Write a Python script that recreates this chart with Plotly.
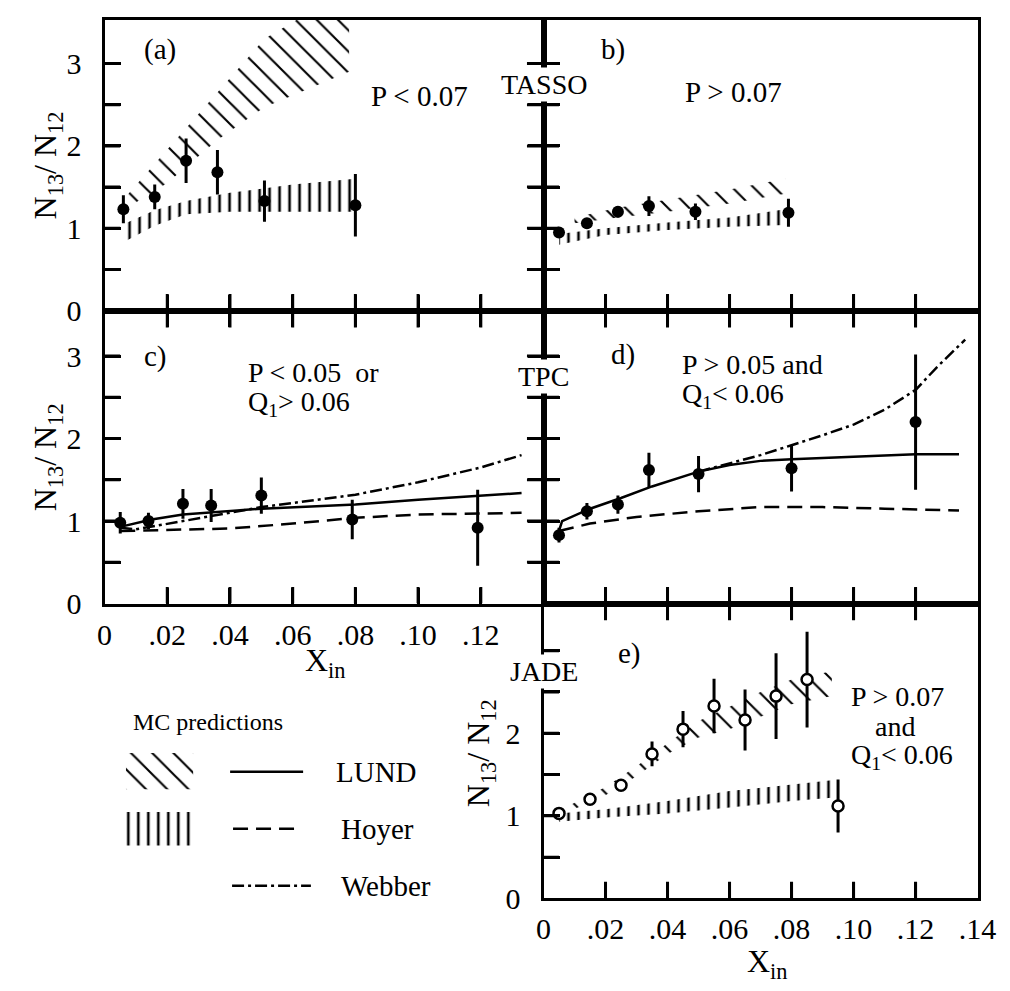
import plotly.graph_objects as go

W, H = 1010, 991
FONT = "Liberation Serif, Times New Roman, Times, DejaVu Serif, serif"

def PX(x):
    return x / W

def PY(y):
    return 1 - y / H

# ---------------- data ----------------
# (a) TASSO, P < 0.07
xa = [0.006, 0.016, 0.026, 0.036, 0.051, 0.080]
ya = [1.23, 1.38, 1.82, 1.68, 1.33, 1.28]
ea = [0.17, 0.15, 0.27, 0.27, 0.25, 0.38]
lund_a_x = [0.006, 0.02, 0.036, 0.051, 0.078]
lund_a_lo = [1.22, 1.55, 2.07, 2.47, 2.90]
lund_a_hi = [1.35, 1.95, 2.65, 3.30, 3.90]
hoyer_a_x = [0.006, 0.016, 0.026, 0.04, 0.06, 0.08]
hoyer_a_lo = [0.83, 1.03, 1.17, 1.20, 1.20, 1.20]
hoyer_a_hi = [1.05, 1.22, 1.33, 1.43, 1.53, 1.60]

# (b) TASSO, P > 0.07
xb = [0.005, 0.014, 0.024, 0.034, 0.049, 0.079]
yb = [0.95, 1.06, 1.20, 1.27, 1.20, 1.19]
eb = [0.05, 0.06, 0.07, 0.12, 0.10, 0.17]
lund_b_x = [0.010, 0.024, 0.04, 0.06, 0.078]
lund_b_lo = [1.06, 1.13, 1.20, 1.30, 1.42]
lund_b_hi = [1.13, 1.25, 1.35, 1.47, 1.60]
hoyer_b_x = [0.005, 0.02, 0.04, 0.06, 0.078]
hoyer_b_lo = [0.80, 0.92, 0.98, 1.02, 1.04]
hoyer_b_hi = [0.93, 1.00, 1.07, 1.13, 1.23]

# (c) TPC, P < 0.05 or Q1 > 0.06
xc = [0.005, 0.014, 0.025, 0.034, 0.050, 0.079, 0.119]
yc = [0.98, 1.00, 1.21, 1.19, 1.31, 1.02, 0.92]
ec = [0.13, 0.10, 0.18, 0.20, 0.22, 0.24, 0.46]
lund_c_x = [0.005, 0.015, 0.025, 0.035, 0.05, 0.08, 0.10, 0.133]
lund_c_y = [0.93, 1.02, 1.08, 1.11, 1.15, 1.20, 1.26, 1.34]
hoyer_c_x = [0.005, 0.02, 0.04, 0.06, 0.08, 0.10, 0.133]
hoyer_c_y = [0.88, 0.89, 0.91, 0.97, 1.04, 1.08, 1.10]
webber_c_x = [0.005, 0.01, 0.025, 0.04, 0.05, 0.06, 0.07, 0.08, 0.10, 0.12, 0.133]
webber_c_y = [0.92, 0.90, 1.00, 1.10, 1.17, 1.22, 1.27, 1.32, 1.47, 1.65, 1.80]

# (d) TPC, P > 0.05 and Q1 < 0.06
xd = [0.005, 0.014, 0.024, 0.034, 0.050, 0.080, 0.120]
yd = [0.83, 1.12, 1.20, 1.62, 1.57, 1.64, 2.20]
ed = [0.09, 0.10, 0.11, 0.21, 0.22, 0.28, 0.82]
lund_d_x = [0.005, 0.006, 0.015, 0.025, 0.035, 0.05, 0.06, 0.07, 0.08, 0.10, 0.12, 0.134]
lund_d_y = [0.88, 1.00, 1.15, 1.28, 1.42, 1.60, 1.68, 1.73, 1.75, 1.78, 1.81, 1.81]
hoyer_d_x = [0.005, 0.015, 0.03, 0.05, 0.07, 0.09, 0.11, 0.134]
hoyer_d_y = [0.88, 0.97, 1.05, 1.12, 1.17, 1.17, 1.15, 1.13]
webber_d_x = [0.05, 0.06, 0.07, 0.08, 0.09, 0.10, 0.11, 0.12, 0.127, 0.136]
webber_d_y = [1.60, 1.70, 1.80, 1.92, 2.04, 2.17, 2.35, 2.59, 2.87, 3.20]

# (e) JADE, P > 0.07 and Q1 < 0.06
xe = [0.005, 0.015, 0.025, 0.035, 0.045, 0.055, 0.065, 0.075, 0.085, 0.095]
ye = [1.03, 1.20, 1.37, 1.75, 2.05, 2.33, 2.16, 2.45, 2.65, 1.12]
ee = [0.0, 0.0, 0.0, 0.15, 0.22, 0.33, 0.37, 0.52, 0.58, 0.32]
lund_e_x = [0.008, 0.02, 0.03, 0.04, 0.05, 0.06, 0.07, 0.08, 0.093]
lund_e_lo = [1.05, 1.25, 1.48, 1.75, 1.95, 2.05, 2.20, 2.35, 2.45]
lund_e_hi = [1.12, 1.35, 1.60, 1.88, 2.15, 2.32, 2.50, 2.65, 2.75]
hoyer_e_x = [0.005, 0.02, 0.04, 0.06, 0.08, 0.093]
hoyer_e_lo = [0.93, 0.98, 1.03, 1.10, 1.18, 1.22]
hoyer_e_hi = [1.03, 1.08, 1.18, 1.30, 1.38, 1.43]

x_tickvals = [0, 0.02, 0.04, 0.06, 0.08, 0.10, 0.12, 0.14]
x_ticktext = ["0", ".02", ".04", ".06", ".08", ".10", ".12", ".14"]
y_tickvals = [0, 0.5, 1, 1.5, 2, 2.5, 3]
y_ticktext = ["0", "", "1", "", "2", "", "3"]

# ---------------- geometry ----------------
COLL = [91, 542]
COLR = [542, 988]
ROW1 = [12, 308]
ROW2 = [308, 606]
ROW3 = [606, 906]
XMAX = 0.14
YTOP = {"": 3.53, "2": 3.53, "3": 3.55, "4": 3.55, "5": 3.57}
PANEL = {"": (COLL, ROW1), "2": (COLR, ROW1), "3": (COLL, ROW2),
         "4": (COLR, ROW2), "5": (COLR, ROW3)}

# ---------------- figure ----------------
fig = go.Figure()

DIAG = dict(shape="\\", fgcolor="black", fgopacity=1, size=15, solidity=0.14)
VERT = dict(shape="|", fgcolor="black", fgopacity=1, size=10, solidity=0.26)
WEBBER_DASH = "12px,4px,3px,4px"
HOYER_DASH = "15px,8px"
CLEAR = "rgba(0,0,0,0)"


def band(xs, lo, hi, pat, ax):
    fig.add_trace(go.Scatter(
        x=list(xs) + list(xs)[::-1], y=list(lo) + list(hi)[::-1],
        xaxis="x" + ax, yaxis="y" + ax, mode="lines", fill="toself",
        fillcolor=CLEAR, fillpattern=pat,
        line=dict(width=0, color=CLEAR), hoverinfo="skip"))


def curve(xs, ys, dash, ax, width=2.5):
    fig.add_trace(go.Scatter(
        x=xs, y=ys, xaxis="x" + ax, yaxis="y" + ax, mode="lines",
        line=dict(color="black", width=width, dash=dash), hoverinfo="skip"))


def points(xs, ys, es, ax, open_marker=False):
    fig.add_trace(go.Scatter(
        x=xs, y=ys, xaxis="x" + ax, yaxis="y" + ax, mode="markers",
        error_y=dict(type="data", array=es, color="black", thickness=3, width=0),
        marker=dict(size=12 if not open_marker else 11,
                    color="white" if open_marker else "black",
                    line=dict(color="black", width=2.5 if open_marker else 0))))


def tick_segments(ax, up=0, down=0, right=0, left=0):
    """Inward tick marks: one short line trace per tick value."""
    (l, r), (t, b) = PANEL[ax]
    ytop = YTOP[ax]
    ppx = (r - l) / XMAX
    ppy = (b - t) / ytop
    segs = []
    for v in x_tickvals[1:-1]:
        if up:
            segs.append(([v, v], [0.0, up / ppy]))
        if down:
            segs.append(([v, v], [ytop, ytop - down / ppy]))
    for v in y_tickvals[1:]:
        if right:
            segs.append(([0.0, right / ppx], [v, v]))
        if left:
            segs.append(([XMAX, XMAX - left / ppx], [v, v]))
    for xs, ys in segs:
        fig.add_trace(go.Scatter(x=xs, y=ys, xaxis="x" + ax, yaxis="y" + ax,
                                 mode="lines", hoverinfo="skip",
                                 line=dict(color="#000000", width=3)))


# a
band(lund_a_x, lund_a_lo, lund_a_hi, DIAG, "")
band(hoyer_a_x, hoyer_a_lo, hoyer_a_hi, VERT, "")
points(xa, ya, ea, "")
tick_segments("", up=17, right=16, left=17)
# b
band(lund_b_x, lund_b_lo, lund_b_hi, DIAG, "2")
band(hoyer_b_x, hoyer_b_lo, hoyer_b_hi, VERT, "2")
points(xb, yb, eb, "2")
tick_segments("2", up=17, right=16)
# c
curve(lund_c_x, lund_c_y, "solid", "3")
curve(hoyer_c_x, hoyer_c_y, HOYER_DASH, "3")
curve(webber_c_x, webber_c_y, WEBBER_DASH, "3")
points(xc, yc, ec, "3")
tick_segments("3", up=17, down=17, right=16, left=17)
# d
curve(lund_d_x, lund_d_y, "solid", "4")
curve(hoyer_d_x, hoyer_d_y, HOYER_DASH, "4")
curve(webber_d_x, webber_d_y, WEBBER_DASH, "4")
points(xd, yd, ed, "4")
tick_segments("4", up=17, down=17, right=16)
# e
band(lund_e_x, lund_e_lo, lund_e_hi, DIAG, "5")
band(hoyer_e_x, hoyer_e_lo, hoyer_e_hi, VERT, "5")
points(xe, ye, ee, "5", open_marker=True)
tick_segments("5", up=17, down=17, right=16)

# legend swatches (decoration, on a hidden pixel-unit axis)
fig.add_trace(go.Scatter(x=[113, 182, 182, 113], y=[758, 758, 795, 795],
                         xaxis="x6", yaxis="y6", mode="lines", fill="toself",
                         fillcolor=CLEAR, fillpattern=DIAG,
                         line=dict(width=0, color=CLEAR)))
fig.add_trace(go.Scatter(x=[113, 183, 183, 113], y=[818, 818, 852, 852],
                         xaxis="x6", yaxis="y6", mode="lines", fill="toself",
                         fillcolor=CLEAR, fillpattern=VERT,
                         line=dict(width=0, color=CLEAR)))
curve([220, 295], [777, 777], "solid", "6")
curve([223, 287], [835, 835], HOYER_DASH, "6")
curve([222, 303], [893, 893], WEBBER_DASH, "6")

# ---------------- axes ----------------
base = dict(showline=True, linecolor="black", linewidth=3,
            ticks="inside", ticklen=16, tickwidth=3, tickcolor="#000000",
            showgrid=False, zeroline=False, fixedrange=True,
            tickfont=dict(family=FONT, size=30, color="black"))


def xax(ax, labels, mirror):
    (l, r), _ = PANEL[ax]
    d = dict(base, domain=[PX(l), PX(r)], anchor="y" + ax, range=[0, XMAX],
             tickmode="array", tickvals=x_tickvals, mirror=mirror)
    if labels is None:
        d["showticklabels"] = False
    else:
        d["ticktext"] = labels
        d["ticklabelstandoff"] = 2
    return d


def yax(ax, labels, mirror):
    _, (t, b) = PANEL[ax]
    d = dict(base, domain=[PY(b), PY(t)], anchor="x" + ax, range=[0, YTOP[ax]],
             tickmode="array", tickvals=y_tickvals, mirror=mirror)
    if labels is None:
        d["showticklabels"] = False
    else:
        d["ticktext"] = labels
        d["ticklabelstandoff"] = 14
    return d


c_labels = x_ticktext[:-1] + [""]
e_ylabels = ["0", "", "1", "", "2", "", ""]

fig.update_layout(
    xaxis=xax("", None, True), yaxis=yax("", y_ticktext, "ticks"),
    xaxis2=xax("2", None, True), yaxis2=yax("2", None, True),
    xaxis3=xax("3", c_labels, "ticks"), yaxis3=yax("3", y_ticktext, "ticks"),
    xaxis4=xax("4", None, "ticks"), yaxis4=yax("4", None, True),
    xaxis5=xax("5", x_ticktext, "ticks"), yaxis5=yax("5", e_ylabels, True),
    xaxis6=dict(domain=[PX(100), PX(320)], range=[100, 320], visible=False,
                anchor="y6", fixedrange=True),
    yaxis6=dict(domain=[PY(910), PY(740)], range=[910, 740], visible=False,
                anchor="x6", fixedrange=True),
)

ann = []


def note(text, x, y, xref, yref, xanchor="left", size=29, **kw):
    ann.append(dict(text=text, x=x, y=y, xref=xref, yref=yref, xanchor=xanchor,
                    yanchor="middle", showarrow=False, align="left",
                    font=dict(family=FONT, size=size, color="black"), **kw))


# experiment labels sit in a gap of the divider line (white box hides the line)
GAP = dict(bgcolor="white", borderpad=1)
note("TASSO", PX(542), 2.75, "paper", "y", xanchor="center", size=28, **GAP)
note("TPC", PX(542), 2.75, "paper", "y3", xanchor="center", size=28, **GAP)
note("JADE", PX(542), 2.75, "paper", "y5", xanchor="center", size=28, **GAP)

note("(a)", 0.012, 3.17, "x", "y")
note("P &lt; 0.07", 0.0843, 2.6, "x", "y")
note("b)", 0.018, 3.17, "x2", "y2")
note("P > 0.07", 0.045, 2.65, "x2", "y2")
note("c)", 0.012, 3.0, "x3", "y3")
note("P &lt; 0.05  or", 0.045, 2.8, "x3", "y3", size=28)
note("Q<sub>1</sub>> 0.06", 0.045, 2.42, "x3", "y3", size=28)
note("d)", 0.021, 3.02, "x4", "y4")
note("P > 0.05 and", 0.044, 2.9, "x4", "y4", size=28)
note("Q<sub>1</sub>&lt; 0.06", 0.044, 2.52, "x4", "y4", size=28)
note("e)", 0.0235, 2.96, "x5", "y5")
note("P > 0.07", 0.0986, 2.45, "x5", "y5", size=28)
note("and", 0.1135, 2.08, "x5", "y5", xanchor="center", size=28)
note("Q<sub>1</sub>&lt; 0.06", 0.0986, 1.72, "x5", "y5", size=28)

YT = "N<sub>13</sub>/ N<sub>12</sub>"
note(YT, PX(32), PY(160), "paper", "paper", xanchor="center", size=32, textangle=-90)
note(YT, PX(32), PY(457), "paper", "paper", xanchor="center", size=32, textangle=-90)
note(YT, PX(478), PY(758), "paper", "paper", xanchor="center", size=32, textangle=-90)
note("X<sub>in</sub>", PX(318), PY(666), "paper", "paper", xanchor="center", size=32)
note("X<sub>in</sub>", PX(772), PY(972), "paper", "paper", xanchor="center", size=32)

note("MC predictions", PX(197), PY(726), "paper", "paper", xanchor="center", size=24)
note("LUND", PX(327), PY(777), "paper", "paper", size=29)
note("Hoyer", PX(332), PY(835), "paper", "paper", size=29)
note("Webber", PX(332), PY(893), "paper", "paper", size=29)

fig.update_layout(
    width=W, height=H, margin=dict(l=0, r=0, t=0, b=0),
    paper_bgcolor="white", plot_bgcolor=CLEAR,
    showlegend=False, annotations=ann,
    font=dict(family=FONT, color="black"),
)

fig.write_html("out.html")
